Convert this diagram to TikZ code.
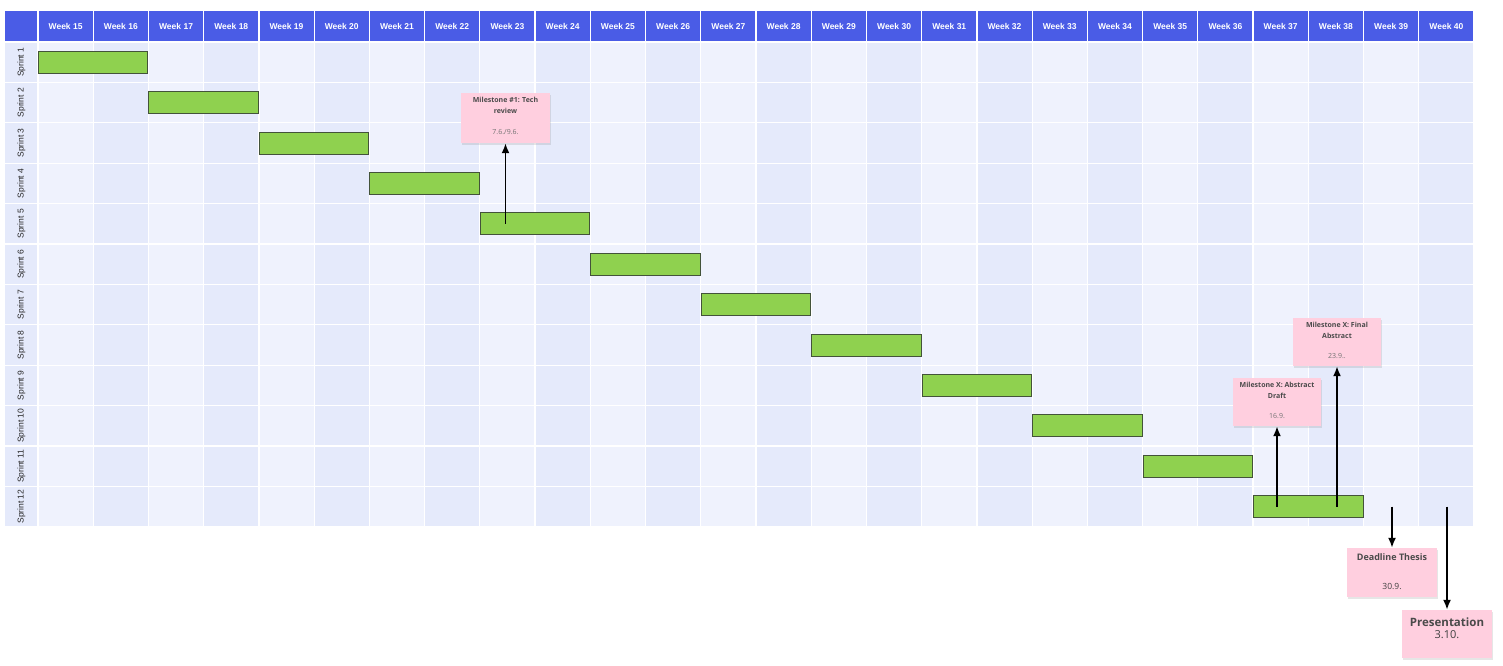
\documentclass[tikz,border=0pt]{standalone}
\usepackage{fontspec}
\setmainfont{Open Sans}
\setsansfont{Liberation Sans}
\usetikzlibrary{positioning,shadows,arrows.meta}

\definecolor{headblue}{HTML}{4A5CE6}
\definecolor{celllight}{HTML}{EFF2FD}
\definecolor{celldark}{HTML}{E5EAFB}
\definecolor{bargreen}{HTML}{8FD14F}
\definecolor{barborder}{HTML}{43533A}
\definecolor{notepink}{HTML}{FFCFDF}
\definecolor{notetext}{HTML}{4A4A4A}

\tikzset{
  weeklabel/.style={text=white, font=\sffamily\bfseries\fontsize{8.5}{9}\selectfont},
  sprintlabel/.style={rotate=90, text=black!85, font=\sffamily\fontsize{8.5}{9}\selectfont},
  sprintbar/.style={draw=barborder, fill=bargreen, line width=1pt, minimum width=109.5pt, minimum height=22pt, inner sep=0pt},
  note/.style={fill=notepink, inner sep=0pt, drop shadow={shadow xshift=0.5pt, shadow yshift=-2pt, opacity=0.2}},
  notetitle/.style={align=center, text=notetext, inner sep=0pt, font=\bfseries\fontsize{7}{11}\selectfont},
  notedate/.style={text=black!55, inner sep=0pt, font=\fontsize{7}{8}\selectfont},
  msarrow/.style={-{Latex[length=10pt,width=8pt]}, line width=1.8pt}
}

\begin{document}
\begin{tikzpicture}[x=1pt, y=-1pt]
  \useasboundingbox (0,0) rectangle (1503,665);

  % table
  \fill[headblue] (5,11) rectangle (1474,42);
  \fill[celldark] (5,42) rectangle (38,527);
  \foreach \c in {0,...,25}{
    \pgfmathsetmacro\cx{38+55.23*\c}
    \pgfmathtruncatemacro\wk{15+\c}
    \pgfmathparse{mod(\c,2)==0 ? "celllight" : "celldark"}
    \fill[\pgfmathresult] (\cx,42) rectangle ++(55.23,485);
    \node[weeklabel] (week\wk) at (\cx+27.6,26.5) {Week \wk};
  }
  \foreach \c in {0,...,26}
    \draw[white, line width=1.2pt] (38+55.23*\c,11) -- (38+55.23*\c,527);
  \foreach \r in {0,...,12}
    \draw[white, line width=1.2pt] (5,42+40.4*\r) -- (1474,42+40.4*\r);

  % sprints
  \foreach \i in {1,...,12}{
    \pgfmathsetmacro\bx{38+55.23*(2*\i-1)}
    \pgfmathsetmacro\by{42+40.4*(\i-0.5)}
    \node[sprintlabel] (sprint\i) at (21.5,\by) {Sprint \i};
    \node[sprintbar] (bar\i) at (\bx,\by) {};
  }

  % milestones
  \node[note, minimum width=89pt, minimum height=50pt] (ms1) at (505.5,118) {};
  \node[notetitle, below=4pt of ms1.north] (ms1title) {Milestone \#1: Tech\\review};
  \node[notedate, above=8pt of ms1.south] (ms1date) {7.6./9.6.};

  \node[note, minimum width=88pt, minimum height=48pt] (final) at (1337,342) {};
  \node[notetitle, below=4pt of final.north] (finaltitle) {Milestone X: Final\\Abstract};
  \node[notedate, above=7pt of final.south] (finaldate) {23.9..};

  \node[note, minimum width=88pt, minimum height=48pt] (draft) at (1277,402) {};
  \node[notetitle, below=4pt of draft.north] (drafttitle) {Milestone X: Abstract\\Draft};
  \node[notedate, above=7pt of draft.south] (draftdate) {16.9.};

  \node[note, minimum width=90pt, minimum height=49pt] (deadline) at (1392,572.5) {};
  \node[notetitle, font=\bfseries\fontsize{9}{11}\selectfont, below=6pt of deadline.north] (deadlinetitle) {Deadline Thesis};
  \node[notedate, text=black!75, font=\fontsize{8.5}{9}\selectfont, above=7pt of deadline.south] (deadlinedate) {30.9.};

  \node[note, minimum width=90pt, minimum height=48pt] (present) at (1447,634) {};
  \node[notetitle, font=\bfseries\fontsize{11.5}{13}\selectfont, below=8pt of present.north] (presenttitle) {Presentation};
  \node[notedate, text=black!75, font=\fontsize{11}{12}\selectfont, below=3pt of presenttitle] (presentdate) {3.10.};

  % arrows
  \draw[msarrow] (ms1.south |- bar5.center) -- (ms1.south);
  \draw[msarrow] (draft.south |- bar12.center) -- (draft.south);
  \draw[msarrow] (final.south |- bar12.center) -- (final.south);
  \draw[msarrow] (deadline.north |- bar12.center) -- (deadline.north);
  \draw[msarrow] (present.north |- bar12.center) -- (present.north);
\end{tikzpicture}
\end{document}
